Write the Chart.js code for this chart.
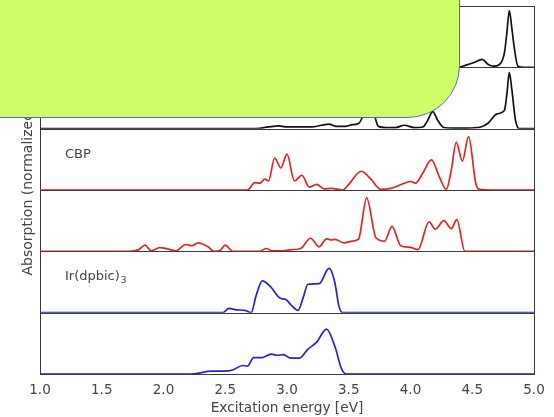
<!DOCTYPE html>
<html>
<head>
<meta charset="utf-8">
<script src="https://cdn.jsdelivr.net/npm/chart.js@4/dist/chart.umd.min.js"></script>
<style>
html,body{margin:0;padding:0;background:#fff;}
#wrap{width:554px;height:417px;position:relative;}
</style>
</head>
<body>
<div id="wrap"><canvas id="c"></canvas></div>
<script>
// ---- data ----
const xTicks = [1.0, 1.5, 2.0, 2.5, 3.0, 3.5, 4.0, 4.5, 5.0];
const panelLabels = ["", "", "CBP", "", "Ir(dpbic)", ""];
const panelLabelSubs = ["", "", "", "", "3", ""];

const e1 = [1.0, 2.6, 2.9, 3.1, 3.3, 3.5, 3.65, 3.75, 3.9, 4.05, 4.2, 4.35, 4.40, 4.45, 4.52, 4.58, 4.63, 4.67, 4.72, 4.76, 4.78, 4.80, 4.82, 4.84, 4.87, 4.92, 5.0];
const v1 = [0, 0, 0.03, 0.05, 0.06, 0.08, 0.15, 0.05, 0.04, 0.05, 0.12, 0.03, 0.01, 0.04, 0.09, 0.14, 0.05, 0.02, 0.05, 0.25, 0.6, 1.0, 0.7, 0.35, 0.02, 0, 0];

const e2 = [1.0, 2.6, 2.75, 2.85, 2.93, 3.0, 3.1, 3.2, 3.28, 3.34, 3.4, 3.47, 3.53, 3.58, 3.62, 3.66, 3.70, 3.74, 3.80, 3.88, 3.95, 4.03, 4.10, 4.14, 4.18, 4.22, 4.27, 4.35, 4.45, 4.57, 4.63, 4.70, 4.76, 4.78, 4.80, 4.82, 4.85, 4.88, 5.0];
const v2 = [0, 0, 0, 0.03, 0.05, 0.03, 0.03, 0.03, 0.06, 0.08, 0.04, 0.04, 0.07, 0.09, 0.25, 0.5, 0.3, 0.04, 0.02, 0.02, 0.06, 0.02, 0.03, 0.15, 0.3, 0.15, 0.02, 0.01, 0.01, 0.03, 0.1, 0.26, 0.32, 0.6, 0.99, 0.7, 0.15, 0, 0];

const e3 = [1.0, 2.6, 2.68, 2.74, 2.78, 2.82, 2.85, 2.90, 2.95, 3.00, 3.06, 3.12, 3.18, 3.24, 3.30, 3.36, 3.45, 3.50, 3.60, 3.68, 3.76, 3.86, 3.95, 4.00, 4.04, 4.10, 4.17, 4.23, 4.29, 4.33, 4.37, 4.42, 4.47, 4.53, 4.56, 4.65, 5.0];
const v3 = [0, 0, 0, 0.13, 0.12, 0.19, 0.16, 0.56, 0.39, 0.63, 0.16, 0.26, 0.05, 0.10, 0.02, 0.03, 0, 0.10, 0.33, 0.19, 0.01, 0.04, 0.12, 0.15, 0.12, 0.30, 0.53, 0.25, 0.01, 0.35, 0.84, 0.51, 0.94, 0.1, 0.01, 0, 0];

const e4 = [1.0, 1.72, 1.80, 1.85, 1.90, 1.97, 2.04, 2.10, 2.18, 2.23, 2.28, 2.36, 2.41, 2.46, 2.50, 2.56, 2.70, 2.78, 2.83, 2.88, 2.96, 3.04, 3.11, 3.19, 3.26, 3.32, 3.36, 3.39, 3.46, 3.53, 3.58, 3.645, 3.72, 3.79, 3.85, 3.92, 4.00, 4.06, 4.15, 4.20, 4.27, 4.33, 4.375, 4.44, 4.6, 5.0];
const v4 = [0, 0, 0.03, 0.11, 0.01, 0.065, 0.04, 0.01, 0.12, 0.10, 0.15, 0.08, 0.0, 0.02, 0.11, 0, 0, 0, 0.05, 0.01, 0.01, 0.03, 0.05, 0.23, 0.08, 0.22, 0.20, 0.21, 0.15, 0.18, 0.22, 0.94, 0.24, 0.18, 0.44, 0.10, 0.07, 0.03, 0.52, 0.39, 0.54, 0.40, 0.56, 0, 0, 0];

const e5 = [1.0, 2.3, 2.48, 2.53, 2.59, 2.66, 2.71, 2.75, 2.80, 2.87, 2.94, 2.99, 3.04, 3.09, 3.13, 3.17, 3.26, 3.34, 3.36, 3.39, 3.42, 3.45, 3.6, 5.0];
const v5 = [0, 0, 0, 0.076, 0.05, 0.04, 0.0, 0.3, 0.56, 0.45, 0.26, 0.23, 0.12, 0.04, 0.26, 0.5, 0.51, 0.78, 0.73, 0.5, 0.12, 0, 0, 0];

const e6 = [1.0, 2.1, 2.23, 2.39, 2.48, 2.56, 2.64, 2.68, 2.73, 2.80, 2.87, 2.92, 2.97, 3.03, 3.10, 3.17, 3.24, 3.32, 3.39, 3.44, 3.48, 3.6, 5.0];
const v6 = [0, 0, 0, 0.05, 0.05, 0.07, 0.15, 0.14, 0.29, 0.29, 0.35, 0.33, 0.34, 0.28, 0.28, 0.44, 0.56, 0.79, 0.47, 0.1, 0, 0, 0];

const energies = [e1, e2, e3, e4, e5, e6];
const values = [v1, v2, v3, v4, v5, v6];
const colors = ["#111111", "#111111", "#e02424", "#e02424", "#2323c8", "#2323c8"];

// ---- chart ----
const FONT = "'DejaVu Sans', sans-serif";
const axisIds = ["p0", "p1", "p2", "p3", "p4", "p5"];

const datasets = energies.map((e, i) => ({
  data: e.map((x, k) => ({x: x, y: values[i][k]})),
  yAxisID: axisIds[i],
  borderColor: colors[i],
  borderWidth: 1.7,
  pointRadius: 0,
  fill: false,
  tension: 0.4,
  cubicInterpolationMode: 'monotone'
}));

const scales = {
  x: {
    type: 'linear', min: 1, max: 5,
    afterBuildTicks: (s) => { s.ticks = xTicks.map(v => ({value: v})); },
    ticks: {
      callback: (v) => Number(v).toFixed(1),
      font: {family: FONT, size: 13.5}, color: '#444', padding: 0, maxRotation: 0
    },
    grid: {display: false},
    border: {display: false},
    title: {display: true, text: 'Excitation energy [eV]', font: {family: FONT, size: 13.7}, color: '#444', padding: {top: 2, bottom: 0}},
    afterFit: (s) => { s.height = 43; }
  }
};
// stacked panels: the last-registered axis is placed on top
axisIds.slice().reverse().forEach((id) => {
  scales[id] = {
    type: 'linear', position: 'left', stack: 'panels', stackWeight: 1,
    min: 0, max: 1.08,
    ticks: {display: false}, grid: {display: false}, border: {display: false},
    afterFit: (s) => { s.width = 0; }
  };
});

const framePlugin = {
  id: 'frame',
  beforeDatasetsDraw(chart) {
    const ctx = chart.ctx, a = chart.chartArea;
    ctx.save();
    ctx.strokeStyle = '#3a3a3a';
    ctx.lineWidth = 1;
    axisIds.forEach((id) => {
      const s = chart.scales[id];
      const y = Math.round(s.bottom) + 0.5;
      ctx.beginPath(); ctx.moveTo(a.left, y); ctx.lineTo(a.right, y); ctx.stroke();
    });
    ctx.strokeRect(Math.round(a.left) + 0.5, Math.round(a.top) + 0.5, Math.round(a.right - a.left), Math.round(a.bottom - a.top));
    ctx.restore();
  },
  afterDatasetsDraw(chart) {
    const ctx = chart.ctx, a = chart.chartArea;
    ctx.save();
    ctx.fillStyle = '#444';
    ctx.textBaseline = 'middle';
    axisIds.forEach((id, i) => {
      if (!panelLabels[i]) return;
      const s = chart.scales[id];
      const y = s.top + (s.bottom - s.top) * 0.42;
      const x = a.left + 25;
      ctx.font = "13px " + FONT;
      ctx.fillText(panelLabels[i], x, y);
      if (panelLabelSubs[i]) {
        const w = ctx.measureText(panelLabels[i]).width;
        ctx.font = "9px " + FONT;
        ctx.fillText(panelLabelSubs[i], x + w + 1, y + 4);
      }
    });
    // y title
    ctx.font = "14px " + FONT;
    ctx.textAlign = 'center';
    ctx.translate(28, (a.top + a.bottom) / 2 + 1);
    ctx.rotate(-Math.PI / 2);
    ctx.fillText('Absorption (normalized)', 0, 0);
    ctx.restore();
  },
  afterDraw(chart) {
    const ctx = chart.ctx;
    ctx.save();
    const x0 = -5, y0 = -5, x1 = 459.5, y1 = 117.5, r = 52;
    ctx.beginPath();
    ctx.moveTo(x0, y0);
    ctx.lineTo(x1, y0);
    ctx.lineTo(x1, y1 - r);
    ctx.arcTo(x1, y1, x1 - r, y1, r);
    ctx.lineTo(x0, y1);
    ctx.closePath();
    ctx.fillStyle = '#cdfd68';
    ctx.fill();
    ctx.strokeStyle = '#4a74b8';
    ctx.lineWidth = 1;
    ctx.stroke();
    ctx.restore();
  }
};

new Chart(document.getElementById('c'), {
  type: 'line',
  data: {datasets: datasets},
  options: {
    responsive: true,
    maintainAspectRatio: false,
    devicePixelRatio: 1,
    animation: false,
    layout: {padding: {left: 40, right: 20, top: 6, bottom: 0}},
    plugins: {legend: {display: false}, tooltip: {enabled: false}},
    scales: scales
  },
  plugins: [framePlugin]
});
</script>
</body>
</html>
